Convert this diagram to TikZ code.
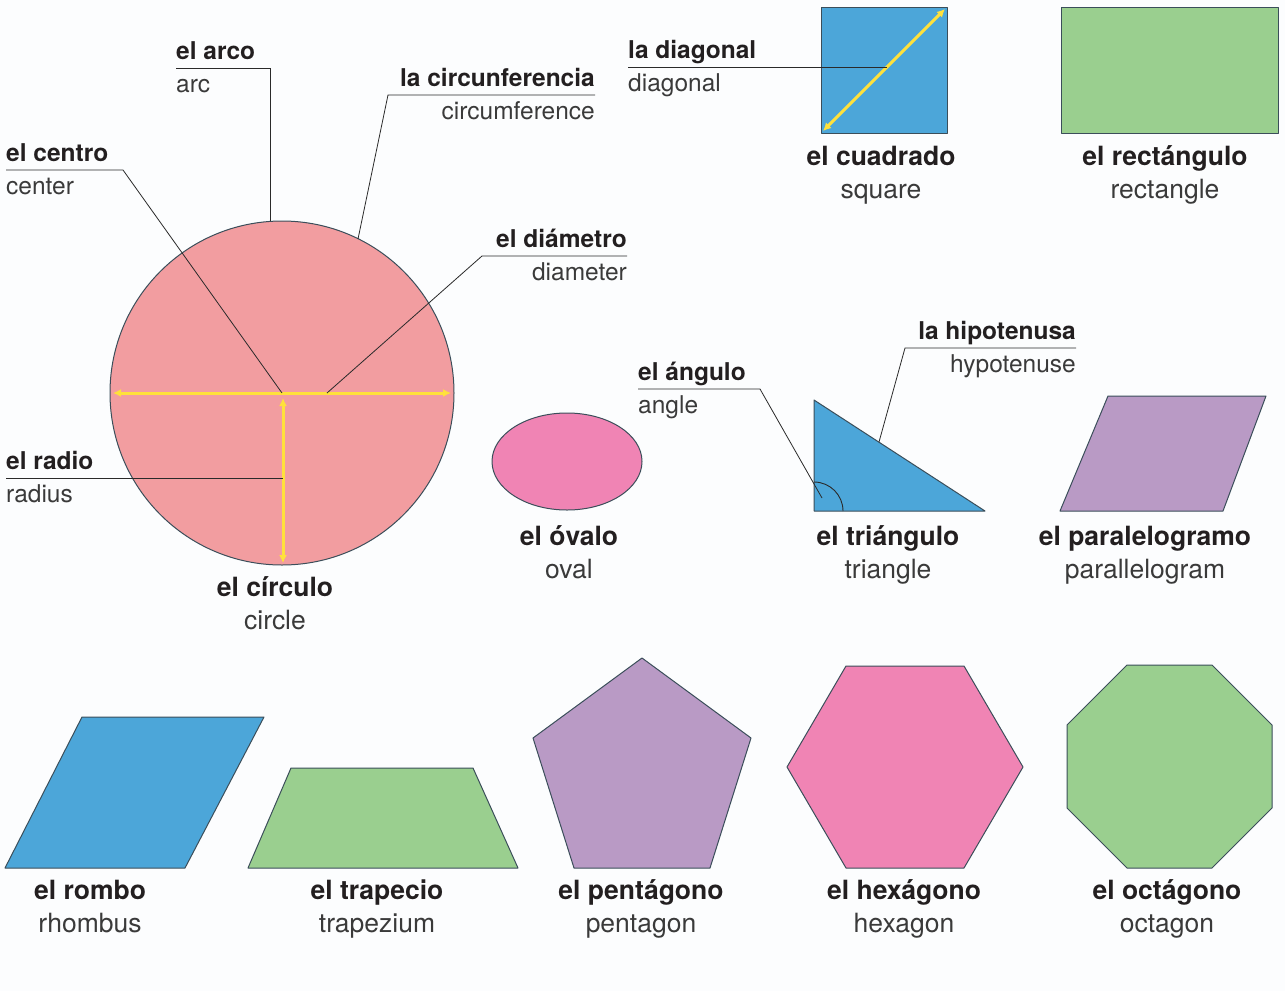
\documentclass[tikz,border=0pt]{standalone}
\usepackage{fontspec}
\setmainfont{TeX Gyre Heros}
\usetikzlibrary{arrows.meta}
\definecolor{bgc}{HTML}{FCFDFE}
\definecolor{pinkc}{HTML}{F29DA0}
\definecolor{bluec}{HTML}{4CA6D9}
\definecolor{greenc}{HTML}{9ACF8F}
\definecolor{magc}{HTML}{F084B4}
\definecolor{purc}{HTML}{B99AC5}
\definecolor{yelc}{HTML}{FFE13B}
\definecolor{edgec}{HTML}{3B4E5A}
\definecolor{leadc}{HTML}{2A2A2A}
\definecolor{txtb}{HTML}{231F20}
\definecolor{txtr}{HTML}{3A3A3A}
\tikzset{
  labb/.style={font=\fontsize{24.5}{28}\selectfont\bfseries, text=txtb, inner sep=0pt},
  labr/.style={font=\fontsize{24.5}{28}\selectfont, text=txtr, inner sep=0pt},
  capb/.style={font=\fontsize{26.5}{30}\selectfont\bfseries, text=txtb, inner sep=0pt, anchor=base},
  capr/.style={font=\fontsize{26.5}{30}\selectfont, text=txtr, inner sep=0pt, anchor=base},
  lead/.style={draw=leadc, line width=0.8pt},
  shp/.style={draw=edgec, line width=1pt, line join=round},
  yel/.style={draw=yelc, line width=3pt, {Latex[length=8pt,width=8pt]}-{Latex[length=8pt,width=8pt]}},
}
\begin{document}
\begin{tikzpicture}[x=1pt,y=-1pt]
\useasboundingbox (0,0) rectangle (1285,991);
\fill[bgc] (0,0) rectangle (1285,991);

% ---------- shapes ----------
\draw[shp, fill=pinkc] (282,393) circle[radius=172pt];
\draw[shp, fill=bluec] (821,7) rectangle (947,133);
\draw[shp, fill=greenc] (1061,7) rectangle (1278,133);
\draw[shp, fill=magc] (567,461.5) ellipse[x radius=75pt, y radius=48.5pt];
\draw[shp, fill=bluec] (814,400) -- (814,511) -- (985,511) -- cycle;
\draw[leadc, line width=0.9pt] (843,511) arc[start angle=0, end angle=90, radius=29pt];
\draw[shp, fill=purc] (1108,396) -- (1266,396) -- (1223,511) -- (1060,511) -- cycle;
\draw[shp, fill=bluec] (82,717) -- (264,717) -- (185,868) -- (5,868) -- cycle;
\draw[shp, fill=greenc] (291,768) -- (473,768) -- (518,868) -- (248,868) -- cycle;
\draw[shp, fill=purc] (642,658) -- (751,738) -- (710,868) -- (574,868) -- (533,738) -- cycle;
\draw[shp, fill=magc] (846,666) -- (964,666) -- (1023,767) -- (964,868) -- (846,868) -- (787,767) -- cycle;
\draw[shp, fill=greenc] (1127,665) -- (1212,665) -- (1272,725) -- (1272,808) -- (1212,868) -- (1127,868) -- (1067,808) -- (1067,725) -- cycle;

% ---------- yellow measures ----------
\coordinate (dL) at (113,393);
\coordinate (dR) at (451,393);
\coordinate (rT) at (283,398);
\coordinate (rB) at (283,563);
\coordinate (sqA) at (823,131);
\coordinate (sqB) at (945,9);
\draw[yel] (dL) -- (dR);
\draw[yel] (rT) -- (rB);
\draw[yel] (sqA) -- (sqB);

% ---------- leader labels ----------
\node[labb, anchor=base west] (arcoB) at (176,59) {el arco};
\node[labr, anchor=base west] (arcoR) at (176,92) {arc};
\node[labb, anchor=base east] (circB) at (595,86) {la circunferencia};
\node[labr, anchor=base east] (circR) at (595,119) {circumference};
\node[labb, anchor=base west] (centB) at (6,161) {el centro};
\node[labr, anchor=base west] (centR) at (6,194) {center};
\node[labb, anchor=base east] (diamB) at (627,247) {el diámetro};
\node[labr, anchor=base east] (diamR) at (627,280) {diameter};
\node[labb, anchor=base west] (radB) at (6,469) {el radio};
\node[labr, anchor=base west] (radR) at (6,502) {radius};
\node[labb, anchor=base west] (diagB) at (628,58) {la diagonal};
\node[labr, anchor=base west] (diagR) at (628,91) {diagonal};
\node[labb, anchor=base west] (angB) at (638,380) {el ángulo};
\node[labr, anchor=base west] (angR) at (638,413) {angle};
\node[labb, anchor=base east] (hipB) at (1076,339) {la hipotenusa};
\node[labr, anchor=base east] (hipR) at (1076,372) {hypotenuse};

% ---------- leader lines ----------
\coordinate (arcoS) at (176,68);  \coordinate (arcoK) at (270,68);  \coordinate (arcoE) at (270,221);
\coordinate (circS) at (595,95);  \coordinate (circK) at (388,95);  \coordinate (circE) at (358,239);
\coordinate (centS) at (6,170);   \coordinate (centK) at (123,170); \coordinate (centE) at (282,393);
\coordinate (diamS) at (627,256); \coordinate (diamK) at (482,256); \coordinate (diamE) at (327,393);
\coordinate (radS) at (6,478);    \coordinate (radE) at (283,478);
\coordinate (diagS) at (628,67);  \coordinate (diagE) at (887,67);
\coordinate (angS) at (638,389);  \coordinate (angK) at (760,389);  \coordinate (angE) at (822,498);
\coordinate (hipS) at (1076,348); \coordinate (hipK) at (905,348);  \coordinate (hipE) at (879,442);
\draw[lead] (arcoS) -- (arcoK) -- (arcoE);
\draw[lead] (circS) -- (circK) -- (circE);
\draw[lead] (centS) -- (centK) -- (centE);
\draw[lead] (diamS) -- (diamK) -- (diamE);
\draw[lead] (radS) -- (radE);
\draw[lead] (diagS) -- (diagE);
\draw[lead] (angS) -- (angK) -- (angE);
\draw[lead] (hipS) -- (hipK) -- (hipE);

% ---------- captions ----------
\node[capb] (cuadB) at (881,165) {el cuadrado};
\node[capr] (cuadR) at (881,198) {square};
\node[capb] (rectB) at (1165,165) {el rectángulo};
\node[capr] (rectR) at (1165,198) {rectangle};
\node[capb] (circuB) at (275,596) {el círculo};
\node[capr] (circuR) at (275,629) {circle};
\node[capb] (ovB) at (569,545) {el óvalo};
\node[capr] (ovR) at (569,578) {oval};
\node[capb] (triB) at (888,545) {el triángulo};
\node[capr] (triR) at (888,578) {triangle};
\node[capb] (parB) at (1145,545) {el paralelogramo};
\node[capr] (parR) at (1145,578) {parallelogram};
\node[capb] (romB) at (90,899) {el rombo};
\node[capr] (romR) at (90,932) {rhombus};
\node[capb] (traB) at (377,899) {el trapecio};
\node[capr] (traR) at (377,932) {trapezium};
\node[capb] (penB) at (641,899) {el pentágono};
\node[capr] (penR) at (641,932) {pentagon};
\node[capb] (hexB) at (904,899) {el hexágono};
\node[capr] (hexR) at (904,932) {hexagon};
\node[capb] (octB) at (1167,899) {el octágono};
\node[capr] (octR) at (1167,932) {octagon};
\end{tikzpicture}
\end{document}
